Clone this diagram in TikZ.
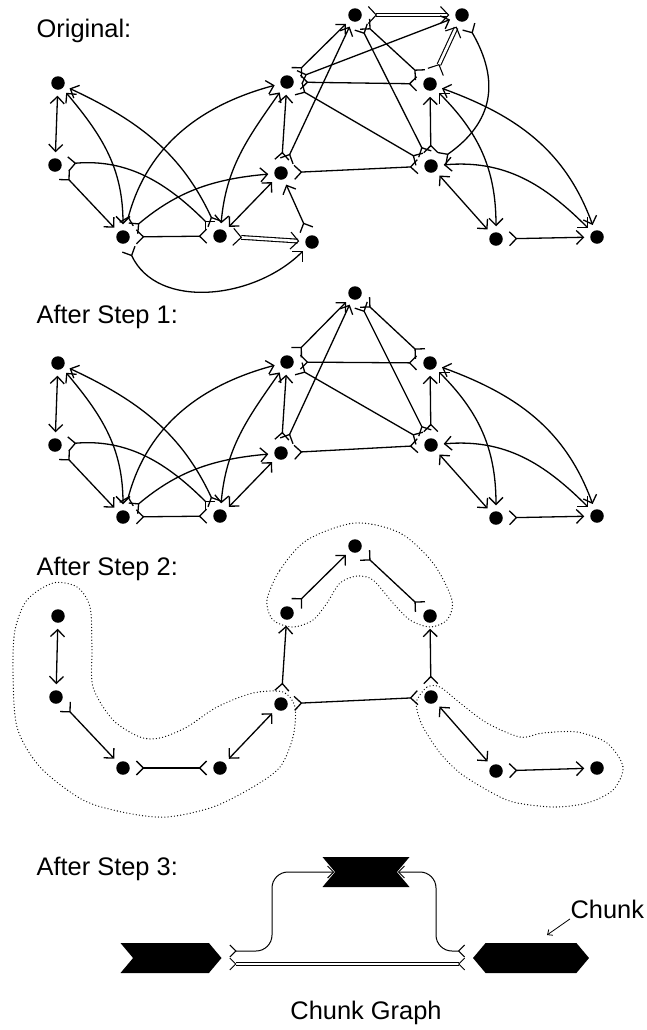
\documentclass[tikz,border=0pt]{standalone}
\usepackage{fontspec}
\setmainfont{Liberation Sans}
\usetikzlibrary{positioning}
\usetikzlibrary{calc}
\usetikzlibrary{arrows.meta}
\usetikzlibrary{shapes.symbols}

\begin{document}
\begin{tikzpicture}[x=1bp, y=1bp, line width=1.3bp, >={Straight Barb[length=7bp,width=14bp]}, font=\fontsize{25.5}{30}\selectfont]
	\tikzstyle{dot}=[circle, fill=black, inner sep=0pt, minimum size=13.5bp, outer sep=6bp]
	\tikzstyle{title}=[anchor=base west, inner sep=0pt]
	\tikzstyle{dbl}=[double, double distance=2.6bp, line width=1.1bp, >={Straight Barb[length=8bp,width=17bp]}]
	\tikzstyle{blob}=[line width=1.3bp, line cap=round, dash pattern=on 0bp off 3.2bp]
	\tikzstyle{chunk}=[signal, fill=black, minimum height=30bp, inner sep=0pt, signal pointer angle=100]
	\tikzstyle{link}=[line width=1bp, >={Straight Barb[length=6bp,width=12bp]}]

	\useasboundingbox (0,0) rectangle (647,-1030);

	% original graph
	\node at (36,-37) [title] (t) {Original:};
	\draw node at (58,-83) [dot] (a) {};
	\draw node at (55,-165) [dot] (b) {};
	\draw node at (123,-237) [dot] (c) {};
	\draw node at (220,-236) [dot] (d) {};
	\draw node at (312,-242) [dot] (e) {};
	\draw node at (287,-82) [dot] (f) {};
	\draw node at (281,-173) [dot] (g) {};
	\draw node at (355,-15) [dot] (h) {};
	\draw node at (462,-15) [dot] (i) {};
	\draw node at (430,-84) [dot] (k) {};
	\draw node at (431,-166) [dot] (l) {};
	\draw node at (496,-239) [dot] (m) {};
	\draw node at (597,-237) [dot] (n) {};

	\draw [<->] (a) to (b);
	\draw [<->] (a) to[out=-50, in=90] (c);
	\draw [<-<] (a) to[out=-25, in=115] (d);
	\draw [>->] (b) to (c);
	\draw [>-<] (b) to[out=5, in=135] (d);
	\draw [<-<] (f) to[out=195, in=75] (c);
	\draw [<->] (f) to[out=235, in=85] (d);
	\draw [>->] (c) to[out=40, in=185] (g);
	\draw [>-<] (c) to (d);
	\draw [>->] (c) to[out=-65, in=-135] (e);
	\draw [dbl, >->] (d) to (e);
	\draw [<->] (d) to (g);
	\draw [<-<] (g) to (e);
	\draw [dbl, >->] (h) to (i);
	\draw [>->] (f) to (h);
	\draw [>->] (f) to (i);
	\draw [>-<] (f) to (k);
	\draw [>-<] (f) to (l);
	\draw [<-<] (f) to (g);
	\draw [>->] (g) to (h);
	\draw [>-<] (g) to (l);
	\draw [>-<] (h) to (l);
	\draw [>-<] (h) to (k);
	\draw [dbl, >->] (k) to (i);
	\draw [>-<] (i) to[out=-60, in=35, looseness=1.2] (l);
	\draw [<-<] (k) to (l);
	\draw [<->] (k) to[out=-45, in=90] (m);
	\draw [<->] (k) to[out=-20, in=110] (n);
	\draw [<->] (l) to (m);
	\draw [<->] (l) to[out=5, in=135] (n);
	\draw [>->] (m) to (n);

	% after step 1
	\node at (36,-323) [title] (t1) {After Step 1:};
	\draw node at (58,-363) [dot] (a1) {};
	\draw node at (55,-445) [dot] (b1) {};
	\draw node at (123,-517) [dot] (c1) {};
	\draw node at (220,-516) [dot] (d1) {};
	\draw node at (287,-362) [dot] (f1) {};
	\draw node at (281,-453) [dot] (g1) {};
	\draw node at (355,-293) [dot] (h1) {};
	\draw node at (430,-363) [dot] (k1) {};
	\draw node at (431,-445) [dot] (l1) {};
	\draw node at (496,-518) [dot] (m1) {};
	\draw node at (597,-516) [dot] (n1) {};

	\draw [<->] (a1) to (b1);
	\draw [<->] (a1) to[out=-50, in=90] (c1);
	\draw [<-<] (a1) to[out=-25, in=115] (d1);
	\draw [>->] (b1) to (c1);
	\draw [>-<] (b1) to[out=5, in=135] (d1);
	\draw [<-<] (f1) to[out=195, in=75] (c1);
	\draw [<->] (f1) to[out=235, in=85] (d1);
	\draw [>->] (c1) to[out=40, in=185] (g1);
	\draw [>-<] (c1) to (d1);
	\draw [<->] (d1) to (g1);
	\draw [>->] (f1) to (h1);
	\draw [>-<] (f1) to (k1);
	\draw [>-<] (f1) to (l1);
	\draw [<-<] (f1) to (g1);
	\draw [>->] (g1) to (h1);
	\draw [>-<] (g1) to (l1);
	\draw [>-<] (h1) to (l1);
	\draw [>-<] (h1) to (k1);
	\draw [<-<] (k1) to (l1);
	\draw [<->] (k1) to[out=-45, in=90] (m1);
	\draw [<->] (k1) to[out=-20, in=110] (n1);
	\draw [<->] (l1) to (m1);
	\draw [<->] (l1) to[out=5, in=135] (n1);
	\draw [>->] (m1) to (n1);

	% after step 2
	\node at (36,-575) [title] (t2) {After Step 2:};
	\draw node at (58,-616) [dot] (a2) {};
	\draw node at (56,-697) [dot] (b2) {};
	\draw node at (123,-768) [dot] (c2) {};
	\draw node at (220,-768) [dot] (d2) {};
	\draw node at (287,-613) [dot] (f2) {};
	\draw node at (281,-704) [dot] (g2) {};
	\draw node at (355,-546) [dot] (h2) {};
	\draw node at (430,-616) [dot] (k2) {};
	\draw node at (431,-697) [dot] (l2) {};
	\draw node at (496,-771) [dot] (m2) {};
	\draw node at (597,-768) [dot] (n2) {};

	\draw [<->] (a2) to (b2);
	\draw [>->] (b2) to (c2);
	\draw [>-<] (c2) to (d2);
	\draw [<->] (d2) to (g2);
	\draw [<-<] (f2) to (g2);
	\draw [>-<] (g2) to (l2);
	\draw [<-<] (k2) to (l2);
	\draw [>->] (f2) to (h2);
	\draw [>-<] (h2) to (k2);
	\draw [<->] (l2) to (m2);
	\draw [>->] (m2) to (n2);

	\draw [blob] plot[smooth cycle] coordinates {(53,-583) (77,-587) (90,-607) (92,-647) (93,-687) (113,-720) (140,-737) (160,-738) (187,-727) (217,-707) (253,-693) (283,-692) (295,-707) (293,-737) (280,-767) (253,-787) (213,-807) (167,-817) (127,-813) (83,-800) (40,-767) (17,-727) (13,-670) (15,-630) (27,-600)};
	\draw [blob] plot[smooth cycle] coordinates {(267,-600) (280,-570) (307,-540) (355,-523) (400,-533) (433,-563) (452,-600) (447,-620) (430,-627) (410,-620) (393,-603) (373,-580) (357,-576) (340,-583) (327,-603) (313,-620) (293,-627) (273,-620)};
	\draw [blob] plot[smooth cycle] coordinates {(417,-700) (427,-687) (440,-687) (460,-703) (487,-723) (520,-737) (543,-733) (577,-732) (607,-743) (623,-767) (613,-790) (587,-803) (553,-807) (513,-802) (487,-790) (460,-773) (440,-753) (423,-727) (417,-710)};

	% after step 3
	\node at (36,-875) [title] (t3) {After Step 3:};
	\node at (171,-958) [chunk, signal from=west, signal to=east, minimum width=101bp] (lc) {};
	\node at (366,-872) [chunk, signal from=west and east, signal to=nowhere, minimum width=87bp] (tc) {};
	\node at (531,-958) [chunk, signal to=west and east, minimum width=116bp] (rc) {};
	\coordinate (lbend) at (272,-910);
	\coordinate (rbend) at (436,-910);

	\draw [link, double, double distance=2bp, line width=0.9bp, >-<] ([xshift=7bp,yshift=-6bp]lc.east) to ([xshift=-7bp,yshift=-6bp]rc.west);
	\draw [link, >->, rounded corners=16bp] ([xshift=7bp,yshift=7bp]lc.east) -| (lbend) |- (tc.west);
	\draw [link, >->, rounded corners=16bp] ([xshift=-7bp,yshift=7bp]rc.west) -| (rbend) |- (tc.east);

	\node at (570,-918) [anchor=base west, inner sep=0pt] (lab) {Chunk};
	\coordinate (chk) at (547,-935);
	\draw [line width=0.8bp, -{Straight Barb[length=4bp,width=7bp]}] (lab.south west) to (chk);

	\node at (366,-1019) [anchor=base, inner sep=0pt] (cg) {Chunk Graph};
\end{tikzpicture}
\end{document}
